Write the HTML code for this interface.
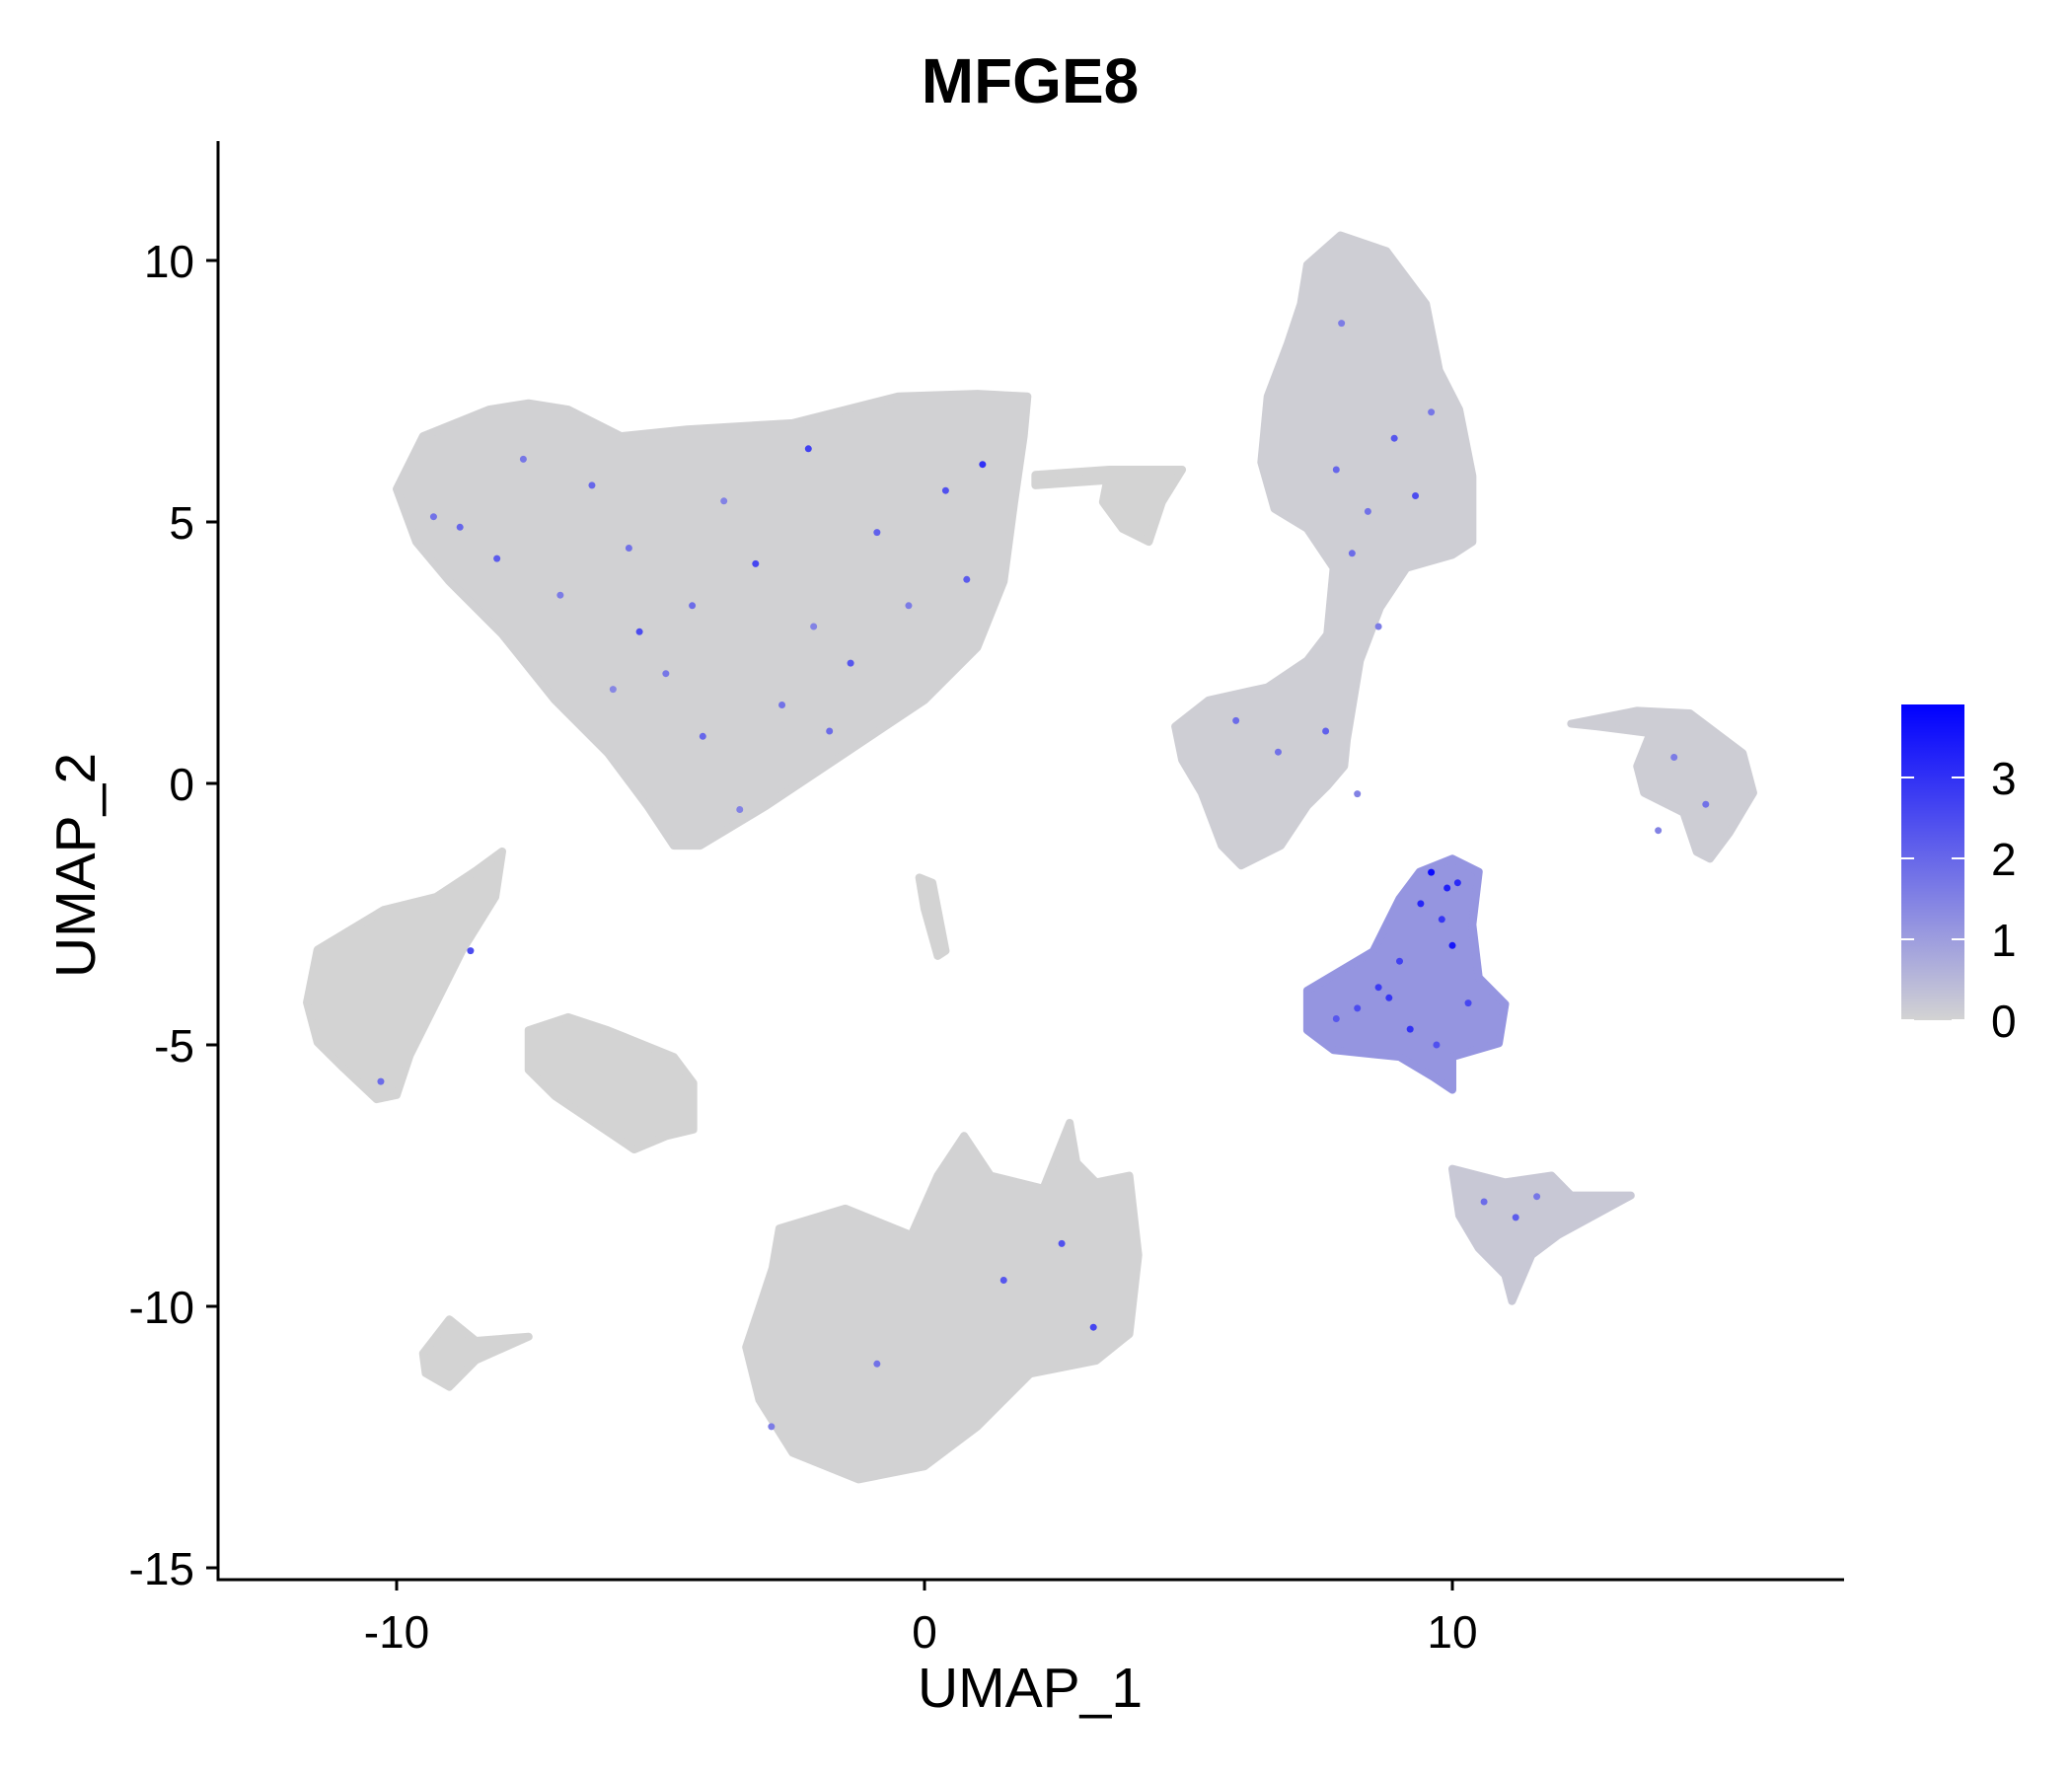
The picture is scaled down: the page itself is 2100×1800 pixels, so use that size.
<!DOCTYPE html>
<html><head><meta charset="utf-8"><style>
html,body{margin:0;padding:0;background:#fff;}
svg{display:block;}
text{font-family:"Liberation Sans",Arial,sans-serif;}
</style></head><body>
<svg id="chart" width="2100" height="1800" viewBox="0 0 2100 1800" xmlns="http://www.w3.org/2000/svg">
<defs>
<linearGradient id="cbar" x1="0" y1="1" x2="0" y2="0">
<stop offset="0" stop-color="#d3d3d3"/>
<stop offset="1" stop-color="#0000ff"/>
</linearGradient>
</defs>
<text x="1044" y="104" font-size="64" font-weight="bold" text-anchor="middle">MFGE8</text>
<g id="clusters"></g>
<g id="dots"></g>
<g id="axes"></g>
<text x="1044" y="1730" font-size="57" text-anchor="middle">UMAP_1</text>
<text x="96" y="877" font-size="57" text-anchor="middle" transform="rotate(-90 96 877)">UMAP_2</text>
<g>
<rect x="1927" y="714" width="64" height="320" fill="url(#cbar)"/>
<g id="legend"></g>
</g>
</svg>
<script>
const xTicks=[-10,0,10];
const yTicks=[10,5,0,-5,-10,-15];
const legendTicks=[0,1,2,3];
const maxExpr=3.9;
const clusterNames=["top-left","right-tall","small-mid","stream","left","left-second","bottom-left-small","thin-mid","bottom-big","purple-cluster","right-arc","bottom-right"];
const clusterFill=[0.03,0.1,0.0,0.0,0.0,0.0,0.0,0.0,0.02,1.15,0.12,0.2];
const clusterPolys=[
[[-10,5.63],[-9.5,6.64],[-8.25,7.15],[-7.5,7.27],[-6.75,7.15],[-5.75,6.64],[-4.5,6.77],[-2.5,6.89],[-0.5,7.4],[1,7.45],[1.95,7.4],[1.88,6.64],[1.7,5.38],[1.5,3.86],[1,2.6],[0,1.59],[-1.5,0.58],[-3,-0.43],[-4.25,-1.19],[-4.75,-1.19],[-5.25,-0.43],[-6,0.58],[-7,1.59],[-8,2.85],[-9,3.86],[-9.63,4.62]],
[[7.25,9.92],[7.88,10.48],[8.75,10.18],[9.5,9.17],[9.75,7.9],[10.13,7.15],[10.38,5.88],[10.38,4.62],[10,4.37],[9.13,4.12],[8.63,3.36],[8.25,2.35],[8,0.83],[7.95,0.33],[7.63,-0.05],[7.25,-0.43],[6.75,-1.19],[6,-1.57],[5.63,-1.19],[5.25,-0.18],[4.88,0.45],[4.75,1.09],[5.38,1.59],[6.5,1.84],[7.25,2.35],[7.63,2.85],[7.75,4.12],[7.25,4.87],[6.63,5.25],[6.38,6.14],[6.5,7.4],[6.88,8.41],[7.13,9.17]],
[[3.5,6],[4.88,6],[4.5,5.38],[4.25,4.62],[3.75,4.87],[3.38,5.38]],
[[2.1,5.9],[3.5,6.0],[3.5,5.8],[2.1,5.7]],
[[-11.5,-3.18],[-10.25,-2.42],[-9.25,-2.17],[-8.5,-1.67],[-8,-1.3],[-8.13,-2.17],[-8.75,-3.18],[-9.25,-4.19],[-9.75,-5.2],[-10,-5.96],[-10.38,-6.04],[-11,-5.45],[-11.5,-4.95],[-11.7,-4.19]],
[[-7.5,-4.72],[-6.75,-4.47],[-6,-4.72],[-4.75,-5.23],[-4.38,-5.73],[-4.38,-6.62],[-4.88,-6.74],[-5.5,-7],[-6.25,-6.49],[-7,-5.98],[-7.5,-5.48]],
[[-9.5,-10.9],[-9,-10.25],[-8.5,-10.66],[-7.5,-10.58],[-8.5,-11.03],[-9,-11.54],[-9.45,-11.28]],
[[-0.1,-1.8],[0.15,-1.9],[0.4,-3.2],[0.25,-3.3],[0,-2.4]],
[[-2.75,-8.51],[-1.5,-8.13],[-0.25,-8.64],[0.25,-7.5],[0.75,-6.74],[1.25,-7.5],[2.25,-7.75],[2.75,-6.49],[2.88,-7.25],[3.25,-7.63],[3.88,-7.5],[4.05,-9.02],[3.88,-10.53],[3.25,-11.04],[2,-11.29],[1,-12.3],[0,-13.06],[-1.25,-13.31],[-2.5,-12.8],[-3.13,-11.79],[-3.38,-10.78],[-3.13,-10.03],[-2.88,-9.27]],
[[7.25,-3.96],[8.5,-3.21],[9,-2.2],[9.38,-1.69],[10,-1.44],[10.5,-1.69],[10.38,-2.7],[10.5,-3.71],[11,-4.22],[10.88,-4.97],[10,-5.23],[10,-5.86],[9.63,-5.61],[9,-5.23],[7.75,-5.1],[7.25,-4.72]],
[[12.25,1.14],[13.5,1.39],[14.5,1.34],[15.5,0.58],[15.7,-0.18],[15.25,-0.94],[14.88,-1.44],[14.63,-1.31],[14.38,-0.56],[13.63,-0.18],[13.5,0.33],[13.75,0.96],[12.75,1.09]],
[[10,-7.37],[11,-7.63],[11.88,-7.5],[12.25,-7.88],[13.38,-7.88],[12,-8.64],[11.5,-9.02],[11.13,-9.9],[11,-9.4],[10.5,-8.89],[10.13,-8.26]]
];
const cellX=[-9.3,-8.1,-6.9,-5.4,-4.4,-3.2,-2.1,-0.9,0.4,1.1,-7.6,-5.9,-4.2,-2.7,-1.4,-0.3,-6.3,-3.8,-2.2,-8.8,-4.9,-1.8,0.8,-5.6,-3.5,
7.8,8.4,8.9,9.3,8.1,8.6,9.6,7.6,8.2,7.9,6.7,5.9,
9.6,9.9,10.1,9.8,9.4,9.0,8.6,8.2,7.8,9.2,10.3,9.7,8.8,10.0,
14.2,14.8,13.9,11.2,10.6,11.6,
-8.6,-10.3,1.5,2.6,-0.9,3.2,-2.9];
const cellY=[5.1,4.3,3.6,2.9,3.4,4.2,3.0,4.8,5.6,6.1,6.2,1.8,0.9,1.5,2.3,3.4,5.7,5.4,6.4,4.9,2.1,1.0,3.9,4.5,-0.5,
6.0,5.2,6.6,5.5,4.4,3.0,7.1,1.0,-0.2,8.8,0.6,1.2,
-1.7,-2.0,-1.9,-2.6,-2.3,-3.4,-3.9,-4.3,-4.5,-4.7,-4.2,-5.0,-4.1,-3.1,
0.5,-0.4,-0.9,-8.3,-8.0,-7.9,
-3.2,-5.7,-9.5,-8.8,-11.1,-10.4,-12.3];
const cellVal=[1.8,2.2,1.6,2.5,1.9,2.6,1.5,2.1,2.4,3.0,1.7,1.4,2.0,1.8,2.3,1.6,2.0,1.5,2.7,2.0,1.7,1.9,2.2,1.8,1.5,
2.0,1.8,2.3,2.5,1.9,1.6,1.7,2.1,1.5,1.6,1.8,1.9,
3.7,3.3,3.1,2.9,3.2,2.7,2.8,2.5,2.3,3.0,2.6,2.4,2.9,3.5,
1.6,1.8,1.5,2.2,1.9,1.7,
2.5,1.9,2.3,2.4,1.8,2.6,1.6];

const NS="http://www.w3.org/2000/svg";
const sx=x=>937+53.5*x;
const sy=y=>794-53.0*y;
const ly=v=>1034-82*v;
function col(v){const t=Math.min(1,v/maxExpr);const r=Math.round(211*(1-t)),g=Math.round(211*(1-t)),b=Math.round(211+(255-211)*t);return `rgb(${r},${g},${b})`;}
const cg=document.getElementById('clusters');
clusterPolys.forEach((poly,i)=>{
  const p=document.createElementNS(NS,'polygon');
  p.setAttribute('points',poly.map(q=>sx(q[0])+','+sy(q[1])).join(' '));
  const c=col(clusterFill[i]);
  p.setAttribute('fill',c);p.setAttribute('stroke',c);p.setAttribute('stroke-width','8');p.setAttribute('stroke-linejoin','round');
  
  
  cg.appendChild(p);
});
const dg=document.getElementById('dots');
cellX.forEach((x,i)=>{
  const c=document.createElementNS(NS,'circle');
  c.setAttribute('cx',sx(x));c.setAttribute('cy',sy(cellY[i]));c.setAttribute('r','3.5');c.setAttribute('fill',col(cellVal[i]));
  
  
  dg.appendChild(c);
});
const ag=document.getElementById('axes');
function line(x1,y1,x2,y2,name,w){const l=document.createElementNS(NS,'line');l.setAttribute('x1',x1);l.setAttribute('y1',y1);l.setAttribute('x2',x2);l.setAttribute('y2',y2);l.setAttribute('stroke','#000');l.setAttribute('stroke-width',w||3);


ag.appendChild(l);}
function text(x,y,s,anchor,name,size,parent){const t=document.createElementNS(NS,'text');t.setAttribute('x',x);t.setAttribute('y',y);t.setAttribute('font-size',size||46);t.setAttribute('text-anchor',anchor);t.textContent=s;


(parent||ag).appendChild(t);}
line(221,143,221,1602,'y-axis-line');
line(219.5,1601,1869,1601,'x-axis-line');
xTicks.forEach(v=>{line(sx(v),1601,sx(v),1612,'x-tick',3);text(sx(v),1670,String(v),'middle','x-tick-label');});
yTicks.forEach(v=>{line(209,sy(v),221,sy(v),'y-tick',3);text(197,sy(v)+17,String(v),'end','y-tick-label');});
const lg=document.getElementById('legend');
legendTicks.forEach(v=>{
  [[1927,1940],[1978,1991]].forEach(s=>{const l=document.createElementNS(NS,'line');l.setAttribute('x1',s[0]);l.setAttribute('x2',s[1]);l.setAttribute('y1',ly(v));l.setAttribute('y2',ly(v));l.setAttribute('stroke','#fff');l.setAttribute('stroke-width','2');
  
  
  lg.appendChild(l);});
  text(2018,ly(v)+17,String(v),'start','legend-label',46,lg);
});
</script>
</body></html>
